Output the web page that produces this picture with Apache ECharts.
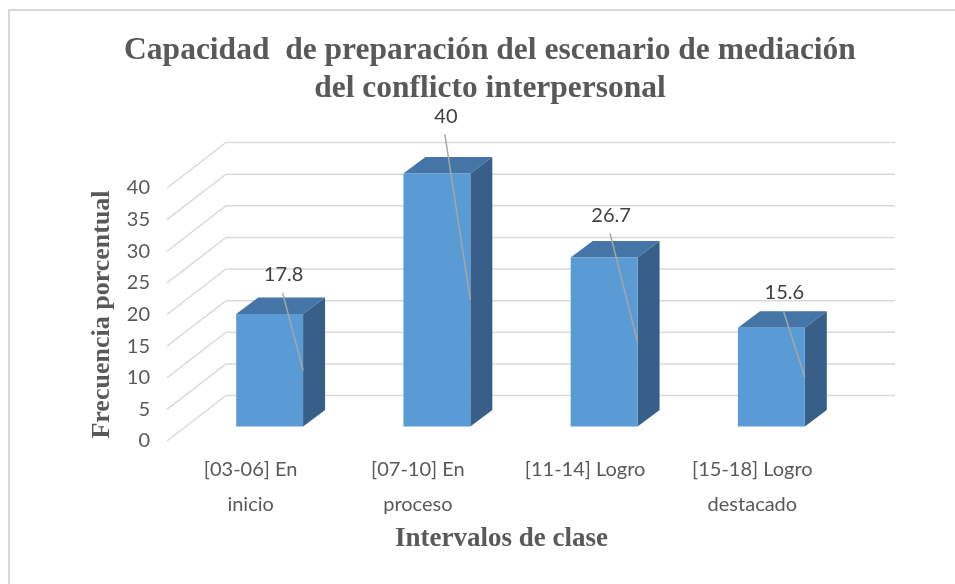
<!DOCTYPE html>
<html>
<head>
<meta charset="utf-8">
<script src="https://cdn.jsdelivr.net/npm/echarts@6/dist/echarts.min.js"></script>
<style>
  html, body { margin: 0; padding: 0; background: #fff; }
  #chart { width: 955px; height: 584px; }
</style>
</head>
<body>
<div id="chart"></div>
<script>
// datos
const categories = ['[03-06] En\ninicio', '[07-10] En\nproceso', '[11-14] Logro', '[15-18] Logro\ndestacado']
const values = [17.8, 40, 26.7, 15.6]
const yTicks = [0, 5, 10, 15, 20, 25, 30, 35, 40]

// ajustes de la etiqueta de cada barra (px, respecto al centro superior de la cara frontal)
const labelNudge = [[14, -39], [9, -57], [7, -42], [13, -35]]

// efecto 3D (px)
const WALL = [59, -45.5]   // profundidad de las paredes
const FRONT = [19, -14.5]  // desplazamiento de la cara frontal de la barra
const DEPTH = [22, -16.5]  // profundidad de la barra

const FRONT_COLOR = '#5b9bd5'
const TOP_COLOR = '#4575a6'
const SIDE_COLOR = '#385f89'
const GRID_COLOR = '#d9d9d9'

const chart = echarts.init(document.getElementById('chart'))

function renderWall(params, api) {
  const cs = params.coordSys
  const y = api.coord([0, api.value(1)])[1]
  const x0 = cs.x
  const x1 = cs.x + cs.width
  return {
    type: 'polyline',
    shape: { points: [[x0, y], [x0 + WALL[0], y + WALL[1]], [x1 + WALL[0], y + WALL[1]]] },
    style: { stroke: GRID_COLOR, lineWidth: 1.5, fill: null },
    silent: true,
  }
}

function renderBar(params, api) {
  const idx = api.value(0)
  const top = api.coord([idx, api.value(1)])
  const base = api.coord([idx, 0])
  const w = api.size([1, 0])[0] * 0.4
  const lx = top[0] - w / 2 + FRONT[0]
  const rx = top[0] + w / 2 + FRONT[0]
  const ty = top[1] + FRONT[1]
  const by = base[1] + FRONT[1]
  const dx = DEPTH[0]
  const dy = DEPTH[1]
  const nudge = labelNudge[params.dataIndex]
  const cx = (lx + rx) / 2 + nudge[0]
  const cy = ty + nudge[1]
  return {
    type: 'group',
    children: [
      {
        type: 'polygon',
        shape: { points: [[lx, ty], [rx, ty], [rx + dx, ty + dy], [lx + dx, ty + dy]] },
        style: { fill: TOP_COLOR },
      },
      {
        type: 'polygon',
        shape: { points: [[rx, ty], [rx, by], [rx + dx, by + dy], [rx + dx, ty + dy]] },
        style: { fill: SIDE_COLOR },
      },
      {
        type: 'rect',
        shape: { x: lx, y: ty, width: rx - lx, height: by - ty },
        style: { fill: FRONT_COLOR },
      },
      {
        type: 'line',
        shape: { x1: cx - 1, y1: cy + 18, x2: rx, y2: (ty + by) / 2 },
        style: { stroke: '#a6a6a6', lineWidth: 1.5 },
      },
      {
        type: 'text',
        x: cx,
        y: cy,
        style: {
          text: String(api.value(1)),
          fill: '#404040',
          font: '20px Lato',
          align: 'center',
          verticalAlign: 'middle',
        },
      },
    ],
  }
}

chart.setOption({
  animation: false,
  grid: { left: 167, right: 119, top: 188, bottom: 143 },
  graphic: [
    {
      type: 'polyline',
      shape: { points: [[9, 600], [9, 10], [960, 10]] },
      style: { stroke: '#d9d9d9', lineWidth: 2, fill: null },
      silent: true,
    },
    {
      type: 'text',
      x: 490,
      y: 70,
      style: {
        text: 'Capacidad  de preparación del escenario de mediación\ndel conflicto interpersonal',
        font: 'bold 31.5px "Liberation Serif"',
        fill: '#595959',
        align: 'center',
        verticalAlign: 'middle',
        lineHeight: 38,
      },
    },
  ],
  xAxis: {
    type: 'category',
    data: categories,
    name: 'Intervalos de clase',
    nameLocation: 'middle',
    nameGap: 85,
    nameTextStyle: { fontFamily: 'Liberation Serif', fontWeight: 'bold', fontSize: 27, color: '#595959' },
    axisLine: { show: false },
    axisTick: { show: false },
    axisLabel: { color: '#595959', fontFamily: 'Lato', fontSize: 20, lineHeight: 35, margin: 11 },
  },
  yAxis: {
    type: 'value',
    min: 0,
    max: 40,
    interval: 5,
    name: 'Frecuencia porcentual',
    nameLocation: 'middle',
    nameRotate: 90,
    nameGap: 52,
    nameTextStyle: { fontFamily: 'Liberation Serif', fontWeight: 'bold', fontSize: 26, color: '#595959' },
    axisLine: { show: false },
    axisTick: { show: false },
    splitLine: { show: false },
    axisLabel: { color: '#595959', fontFamily: 'Lato', fontSize: 20, margin: 17, padding: [6, 0, 0, 0] },
  },
  series: [
    {
      type: 'custom',
      renderItem: renderWall,
      data: yTicks.map((v) => [0, v]),
      encode: { x: 0, y: 1 },
      z: 1,
      silent: true,
    },
    {
      type: 'custom',
      renderItem: renderBar,
      data: values.map((v, i) => [i, v]),
      encode: { x: 0, y: 1 },
      z: 2,
    },
  ],
})
</script>
</body>
</html>
